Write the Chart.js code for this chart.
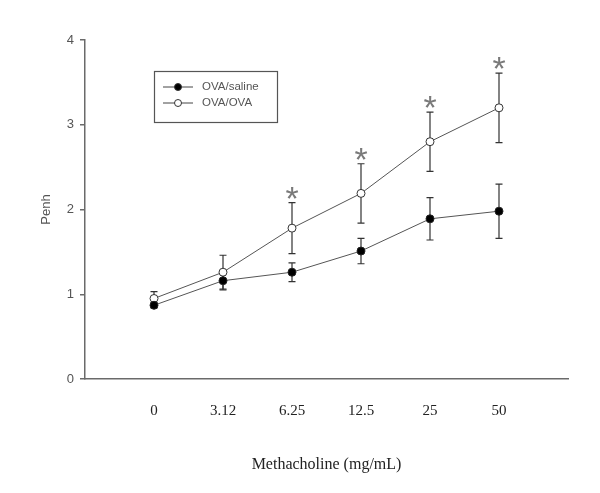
<!DOCTYPE html>
<html>
<head>
<meta charset="utf-8">
<script src="https://cdn.jsdelivr.net/npm/chart.js@4/dist/chart.umd.min.js"></script>
<style>
  html, body { margin: 0; padding: 0; background: #ffffff; }
  #wrap { width: 600px; height: 493px; }
</style>
</head>
<body>
<div id="wrap"><canvas id="penhChart" width="600" height="493"></canvas></div>
<script>
const doseLabels = ['0', '3.12', '6.25', '12.5', '25', '50'];
const salineMean = [0.87, 1.16, 1.26, 1.51, 1.89, 1.98];
const salineErr = [0.03, 0.11, 0.11, 0.15, 0.25, 0.32];
const ovaMean = [0.95, 1.26, 1.78, 2.19, 2.80, 3.20];
const ovaErr = [0.08, 0.20, 0.30, 0.35, 0.35, 0.41];
const significant = [false, false, true, true, true, true];
const yTicks = [0, 1, 2, 3, 4];

const toPoints = (values) => values.map((value, i) => ({ x: i, y: value }));

const axisColor = '#6a6a6a';
const textColor = '#555555';

// error bars go under the markers, asterisks over them
const errorBarPlugin = {
  id: 'errorBars',
  beforeDatasetsDraw(chart) {
    const { ctx, scales: { x, y } } = chart;
    const sets = [[salineMean, salineErr], [ovaMean, ovaErr]];
    ctx.save();
    ctx.strokeStyle = '#333333';
    ctx.lineWidth = 1.2;
    sets.forEach(([means, errs]) => {
      means.forEach((mean, i) => {
        const px = x.getPixelForValue(i);
        const top = y.getPixelForValue(mean + errs[i]);
        const bottom = y.getPixelForValue(mean - errs[i]);
        ctx.beginPath();
        ctx.moveTo(px, top);
        ctx.lineTo(px, bottom);
        ctx.moveTo(px - 3.5, top);
        ctx.lineTo(px + 3.5, top);
        ctx.moveTo(px - 3.5, bottom);
        ctx.lineTo(px + 3.5, bottom);
        ctx.stroke();
      });
    });
    ctx.restore();
  },
  afterDatasetsDraw(chart) {
    const { ctx, scales: { x, y } } = chart;
    ctx.save();
    ctx.fillStyle = '#7a7a7a';
    ctx.font = '34px "Liberation Sans", Arial, sans-serif';
    ctx.textAlign = 'center';
    ctx.textBaseline = 'alphabetic';
    significant.forEach((flag, i) => {
      if (!flag) return;
      const px = x.getPixelForValue(i);
      const top = y.getPixelForValue(ovaMean[i] + ovaErr[i]);
      ctx.fillText('*', px, top + 7);
    });
    ctx.restore();
  }
};

// boxed legend sitting inside the plot area
const boxLegendPlugin = {
  id: 'boxLegend',
  afterDraw(chart) {
    const { ctx } = chart;
    const left = 154, top = 71, w = 123, h = 51;
    ctx.save();
    ctx.strokeStyle = '#555555';
    ctx.lineWidth = 1.2;
    ctx.strokeRect(left + 0.5, top + 0.5, w, h);
    const rows = [
      { label: 'OVA/saline', fill: '#000000', y: top + 16 },
      { label: 'OVA/OVA', fill: '#ffffff', y: top + 32 }
    ];
    rows.forEach((row) => {
      ctx.strokeStyle = '#444444';
      ctx.lineWidth = 1;
      ctx.beginPath();
      ctx.moveTo(left + 9, row.y);
      ctx.lineTo(left + 39, row.y);
      ctx.stroke();
      ctx.beginPath();
      ctx.arc(left + 24, row.y, 3.5, 0, Math.PI * 2);
      ctx.fillStyle = row.fill;
      ctx.fill();
      ctx.strokeStyle = '#333333';
      ctx.stroke();
      ctx.fillStyle = '#555555';
      ctx.font = '11.5px "Liberation Sans", Arial, sans-serif';
      ctx.textAlign = 'left';
      ctx.textBaseline = 'middle';
      ctx.fillText(row.label, left + 48, row.y);
    });
    ctx.restore();
  }
};

new Chart(document.getElementById('penhChart'), {
  type: 'line',
  plugins: [errorBarPlugin, boxLegendPlugin],
  data: {
    datasets: [
      {
        label: 'OVA/saline',
        data: toPoints(salineMean),
        borderColor: '#555555',
        borderWidth: 1,
        backgroundColor: '#000000',
        pointBackgroundColor: '#000000',
        pointBorderColor: '#222222',
        pointRadius: 4,
        pointBorderWidth: 1,
        tension: 0
      },
      {
        label: 'OVA/OVA',
        data: toPoints(ovaMean),
        borderColor: '#555555',
        borderWidth: 1,
        backgroundColor: '#ffffff',
        pointBackgroundColor: '#ffffff',
        pointBorderColor: '#333333',
        pointRadius: 4,
        pointBorderWidth: 1,
        tension: 0
      }
    ]
  },
  options: {
    responsive: false,
    animation: false,
    events: [],
    layout: { padding: { top: 40, right: 32, bottom: 0, left: 0 } },
    plugins: {
      legend: { display: false },
      tooltip: { enabled: false }
    },
    scales: {
      x: {
        type: 'linear',
        min: -1,
        max: 6,
        afterFit(scale) { scale.height = 114; },
        afterBuildTicks(scale) {
          scale.ticks = doseLabels.map((_, i) => ({ value: i }));
        },
        ticks: {
          autoSkip: false,
          maxRotation: 0,
          padding: 23,
          color: '#222222',
          font: { family: '"Liberation Serif", "Times New Roman", serif', size: 15 },
          callback: (value) => doseLabels[value] ?? ''
        },
        grid: { display: false, drawTicks: false },
        border: { display: true, color: axisColor, width: 1.5 },
        title: {
          display: true,
          text: 'Methacholine (mg/mL)',
          color: '#222222',
          font: { family: '"Liberation Serif", "Times New Roman", serif', size: 16 },
          padding: { top: 0, bottom: 19 }
        }
      },
      y: {
        min: 0,
        max: 4,
        afterFit(scale) { scale.width = 85; },
        afterBuildTicks(scale) {
          scale.ticks = yTicks.map((value) => ({ value }));
        },
        ticks: {
          padding: 6,
          color: textColor,
          font: { family: '"Liberation Sans", Arial, sans-serif', size: 13 }
        },
        grid: {
          drawOnChartArea: false,
          drawTicks: true,
          tickLength: 5,
          color: axisColor,
          lineWidth: 1.5
        },
        border: { display: true, color: axisColor, width: 1.5 },
        title: {
          display: true,
          text: 'Penh',
          color: textColor,
          font: { family: '"Liberation Sans", Arial, sans-serif', size: 13 },
          padding: { top: 39, bottom: 0 }
        }
      }
    }
  }
});
</script>
</body>
</html>
